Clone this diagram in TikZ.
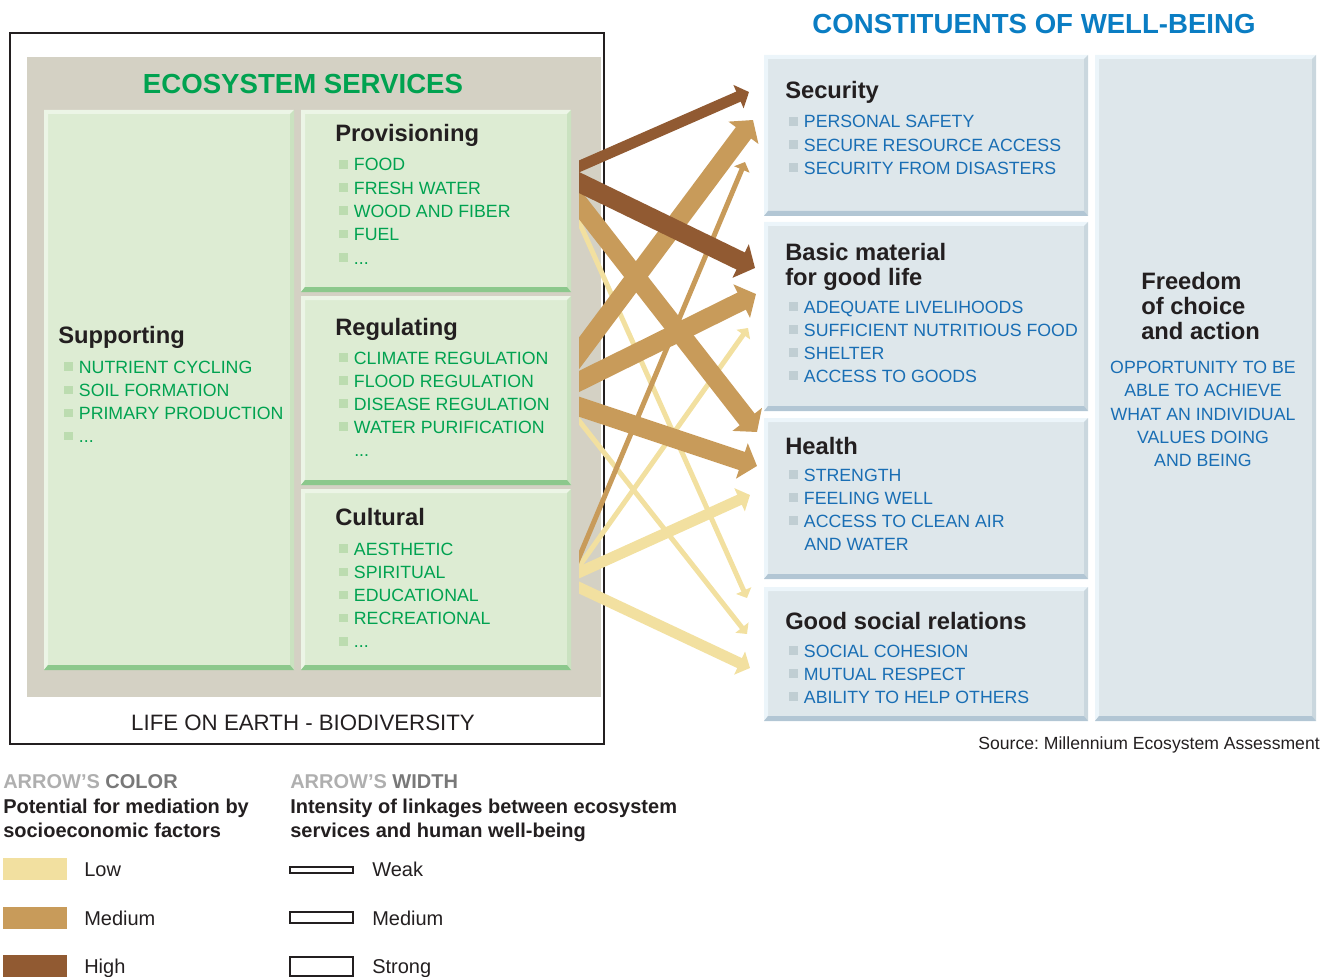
\documentclass[tikz,border=0pt]{standalone}
\usepackage{fontspec}
\setmainfont{Liberation Sans}
\usepackage{tikz}
\usetikzlibrary{arrows.meta, calc}
\frenchspacing

\definecolor{TextDark}{RGB}{35,31,32}
\definecolor{BgBeige}{RGB}{212,209,196}
\definecolor{GreenFill}{RGB}{221,236,211}
\definecolor{GreenLight}{RGB}{236,245,230}
\definecolor{GreenSide}{RGB}{202,226,192}
\definecolor{GreenEdge}{RGB}{140,200,140}
\definecolor{GreenText}{RGB}{0,162,80}
\definecolor{GreenBullet}{RGB}{188,220,176}
\definecolor{BlueFill}{RGB}{222,231,235}
\definecolor{BlueLight}{RGB}{236,245,250}
\definecolor{BlueSide}{RGB}{202,215,222}
\definecolor{BlueEdge}{RGB}{178,198,212}
\definecolor{BlueText}{RGB}{25,110,180}
\definecolor{TitleBlue}{RGB}{10,125,195}
\definecolor{BlueBullet}{RGB}{192,206,211}
\definecolor{LowColor}{RGB}{242,224,160}
\definecolor{MediumColor}{RGB}{200,155,90}
\definecolor{HighColor}{RGB}{145,90,50}
\definecolor{LegendLight}{RGB}{175,175,175}
\definecolor{LegendGray}{RGB}{120,120,120}

\newcommand{\gbullet}{\raisebox{1.8pt}{\textcolor{GreenBullet}{\rule{6.5pt}{6.5pt}}}\hspace{4.5pt}}
\newcommand{\bbullet}{\raisebox{1.8pt}{\textcolor{BlueBullet}{\rule{6.5pt}{6.5pt}}}\hspace{4.5pt}}
\newcommand{\moreitems}{...}

\tikzstyle{bigtitle} = [anchor=base, inner sep=0pt, font=\bfseries\fontsize{20.7}{24}\selectfont]
\tikzstyle{heading} = [anchor=base west, inner sep=0pt, text=TextDark, font=\bfseries\fontsize{17.8}{21}\selectfont]
\tikzstyle{greenitem} = [anchor=base west, inner sep=0pt, text=GreenText, font=\fontsize{13.3}{16}\selectfont]
\tikzstyle{blueitem} = [anchor=base west, inner sep=0pt, text=BlueText, font=\fontsize{13.3}{16}\selectfont]
\tikzstyle{legendtext} = [anchor=base west, inner sep=0pt, text=TextDark, font=\fontsize{15}{18}\selectfont]
\tikzstyle{legendhead} = [anchor=base west, inner sep=0pt, text=TextDark, font=\bfseries\fontsize{15}{18}\selectfont]
\tikzstyle{link} = [-{Triangle[length=4pt 0.56, width=6.75pt 1.45]}, shorten <=-20pt]
\tikzstyle{weaklink} = [link, line width=3.75pt]
\tikzstyle{mediumlink} = [link, line width=8.25pt]
\tikzstyle{stronglink} = [link, line width=14.25pt]

\begin{document}
\begin{tikzpicture}[x=0.75pt, y=-0.75pt]
    \useasboundingbox (0,0) rectangle (1332,977);

    % Life on earth frame
    \fill[BgBeige] (27,57) rectangle (601,697);
    \draw[TextDark, line width=1.6pt] (10,33) rectangle (604,744);
    \node[anchor=base, inner sep=0pt, text=TextDark, font=\fontsize{16.7}{20}\selectfont] (life) at (303,730) {LIFE ON EARTH - BIODIVERSITY};
    \node[bigtitle, text=GreenText] (es-title) at (303,94) {ECOSYSTEM SERVICES};

    % Ecosystem service boxes
    \foreach \xa/\ya/\xb/\yb in {44/110/294/670, 301/110/571/292, 301/296/571/485, 301/489/571/670} {
            \fill[GreenFill] (\xa,\ya) rectangle (\xb,\yb);
            \fill[GreenLight] (\xa,\ya) -- (\xb,\ya) -- (\xb-4,\ya+4) -- (\xa+4,\ya+4) -- (\xa+4,\yb-5) -- (\xa,\yb) -- cycle;
            \fill[GreenSide] (\xb,\ya) -- (\xb,\yb) -- (\xb-4,\yb-5) -- (\xb-4,\ya+4) -- cycle;
            \fill[GreenEdge] (\xa,\yb) -- (\xb,\yb) -- (\xb-4,\yb-5) -- (\xa+4,\yb-5) -- cycle;
        }

    % Well-being boxes
    \foreach \xa/\ya/\xb/\yb in {764/55/1088/216, 764/222/1088/411, 764/418/1088/579, 764/587/1088/721, 1095/55/1316/721} {
            \fill[BlueFill] (\xa,\ya) rectangle (\xb,\yb);
            \fill[BlueLight] (\xa,\ya) -- (\xb,\ya) -- (\xb-4,\ya+4) -- (\xa+4,\ya+4) -- (\xa+4,\yb-5) -- (\xa,\yb) -- cycle;
            \fill[BlueSide] (\xb,\ya) -- (\xb,\yb) -- (\xb-4,\yb-5) -- (\xb-4,\ya+4) -- cycle;
            \fill[BlueEdge] (\xa,\yb) -- (\xb,\yb) -- (\xb-4,\yb-5) -- (\xa+4,\yb-5) -- cycle;
        }
    \node[bigtitle, text=TitleBlue] (wb-title) at (1034,34) {CONSTITUENTS OF WELL-BEING};

    % Supporting
    \node[heading] (supp-head) at (58,343.5) {Supporting};
    \foreach \txt [count=\i] in {NUTRIENT CYCLING, SOIL FORMATION, PRIMARY PRODUCTION, \moreitems}
        \node[greenitem] (supp-\i) at (64,{373.5+23.1*(\i-1)}) {\gbullet\txt};

    % Provisioning
    \node[heading] (prov-head) at (335,142) {Provisioning};
    \foreach \txt [count=\i] in {FOOD, FRESH WATER, WOOD AND FIBER, FUEL, \moreitems}
        \node[greenitem] (prov-\i) at (339,{171+23.25*(\i-1)}) {\gbullet\txt};

    % Regulating
    \node[heading] (reg-head) at (335,335) {Regulating};
    \foreach \txt [count=\i] in {CLIMATE REGULATION, FLOOD REGULATION, DISEASE REGULATION, WATER PURIFICATION}
        \node[greenitem] (reg-\i) at (339,{364+23.1*(\i-1)}) {\gbullet\txt};
    \node[greenitem] (reg-5) at (354,456.5) {\moreitems};

    % Cultural
    \node[heading] (cult-head) at (335,525.5) {Cultural};
    \foreach \txt [count=\i] in {AESTHETIC, SPIRITUAL, EDUCATIONAL, RECREATIONAL, \moreitems}
        \node[greenitem] (cult-\i) at (339,{555.5+23.1*(\i-1)}) {\gbullet\txt};

    % Security
    \node[heading] (sec-head) at (785,98.5) {Security};
    \foreach \txt [count=\i] in {PERSONAL SAFETY, SECURE RESOURCE ACCESS, SECURITY FROM DISASTERS}
        \node[blueitem] (sec-\i) at (789,{128+23.1*(\i-1)}) {\bbullet\txt};

    % Basic material
    \node[heading] (basic-head) at (785,260.5) {Basic material};
    \node[heading] (basic-head2) at (785,285.5) {for good life};
    \foreach \txt [count=\i] in {ADEQUATE LIVELIHOODS, SUFFICIENT NUTRITIOUS FOOD, SHELTER, ACCESS TO GOODS}
        \node[blueitem] (basic-\i) at (789,{313+23.1*(\i-1)}) {\bbullet\txt};

    % Health
    \node[heading] (health-head) at (785,454.5) {Health};
    \foreach \txt [count=\i] in {STRENGTH, FEELING WELL, ACCESS TO CLEAN AIR}
        \node[blueitem] (health-\i) at (789,{481+23.1*(\i-1)}) {\bbullet\txt};
    \node[blueitem] (health-4) at (804,550) {AND WATER};

    % Good social relations
    \node[heading] (social-head) at (785,629.5) {Good social relations};
    \foreach \txt [count=\i] in {SOCIAL COHESION, MUTUAL RESPECT, ABILITY TO HELP OTHERS}
        \node[blueitem] (social-\i) at (789,{657+23.1*(\i-1)}) {\bbullet\txt};

    % Freedom of choice
    \node[heading] (free-head) at (1141,289.5) {Freedom};
    \node[heading] (free-head2) at (1141,314.5) {of choice};
    \node[heading] (free-head3) at (1141,339) {and action};
    \foreach \txt [count=\i] in {OPPORTUNITY TO BE, ABLE TO ACHIEVE, WHAT AN INDIVIDUAL, VALUES DOING, AND BEING}
        \node[blueitem, anchor=base] (free-\i) at (1203,{373.5+23.25*(\i-1)}) {\txt};

    \node[anchor=base east, inner sep=0pt, text=TextDark, font=\fontsize{13.2}{16}\selectfont] (source) at (1320,749) {Source: Millennium Ecosystem Assessment};

    % Arrow ends
    \coordinate (prov-o1) at (580,166);
    \coordinate (prov-o2) at (580,183);
    \coordinate (prov-o3) at (580,205);
    \coordinate (prov-o4) at (580,224);
    \coordinate (reg-o1) at (580,352);
    \coordinate (reg-o2) at (580,381);
    \coordinate (reg-o3) at (580,407);
    \coordinate (reg-o4) at (580,422);
    \coordinate (cult-o1) at (580,555);
    \coordinate (cult-o2) at (580,565);
    \coordinate (cult-o3) at (580,572);
    \coordinate (cult-o4) at (580,588);
    \coordinate (sec-i1) at (749,92);
    \coordinate (sec-i2) at (753,120);
    \coordinate (sec-i3) at (745,162);
    \coordinate (basic-i1) at (755,268);
    \coordinate (basic-i2) at (756,294);
    \coordinate (basic-i3) at (748,328);
    \coordinate (health-i1) at (757,432);
    \coordinate (health-i2) at (757,466);
    \coordinate (health-i3) at (750,495);
    \coordinate (social-i1) at (747,598);
    \coordinate (social-i2) at (747,634);
    \coordinate (social-i3) at (750,668);

    % Linkages
    \begin{scope}
        \clip (579,0) rectangle (800,760);
        \draw[weaklink, LowColor] (prov-o4) -- (social-i1);
        \draw[weaklink, LowColor] (reg-o4) -- (social-i2);
        \draw[weaklink, LowColor] (cult-o2) -- (basic-i3);
        \draw[mediumlink, LowColor] (cult-o3) -- (health-i3);
        \draw[mediumlink, LowColor] (cult-o4) -- (social-i3);
        \draw[weaklink, MediumColor] (cult-o1) -- (sec-i3);
        \draw[stronglink, MediumColor] (prov-o3) -- (health-i1);
        \draw[stronglink, MediumColor] (reg-o3) -- (health-i2);
        \draw[stronglink, MediumColor] (reg-o2) -- (basic-i2);
        \draw[stronglink, MediumColor] (reg-o1) -- (sec-i2);
        \draw[mediumlink, HighColor] (prov-o1) -- (sec-i1);
        \draw[stronglink, HighColor] (prov-o2) -- (basic-i1);
    \end{scope}

    % Legend: color
    \node[legendhead] (color-key) at (3,788) {\textcolor{LegendLight}{ARROW’S} \textcolor{LegendGray}{COLOR}};
    \node[legendhead] (color-desc) at (3,813) {Potential for mediation by};
    \node[legendhead] (color-desc2) at (3,837) {socioeconomic factors};
    \foreach \y/\c/\t [count=\i] in {858/LowColor/Low, 907/MediumColor/Medium, 955/HighColor/High} {
            \fill[\c] (3,\y) rectangle (67,\y+22);
            \node[legendtext] (color-\i) at (84,\y+18) {\t};
        }

    % Legend: width
    \node[legendhead] (width-key) at (290,788) {\textcolor{LegendLight}{ARROW’S} \textcolor{LegendGray}{WIDTH}};
    \node[legendhead] (width-desc) at (290,813) {Intensity of linkages between ecosystem};
    \node[legendhead] (width-desc2) at (290,837) {services and human well-being};
    \foreach \ya/\yb/\t/\yt [count=\i] in {867/873/Weak/876, 912/923/Medium/925, 957/976/Strong/973} {
            \draw[TextDark, line width=0.9pt, fill=white] (290,\ya) rectangle (353,\yb);
            \node[legendtext] (width-\i) at (372,\yt) {\t};
        }
\end{tikzpicture}
\end{document}
